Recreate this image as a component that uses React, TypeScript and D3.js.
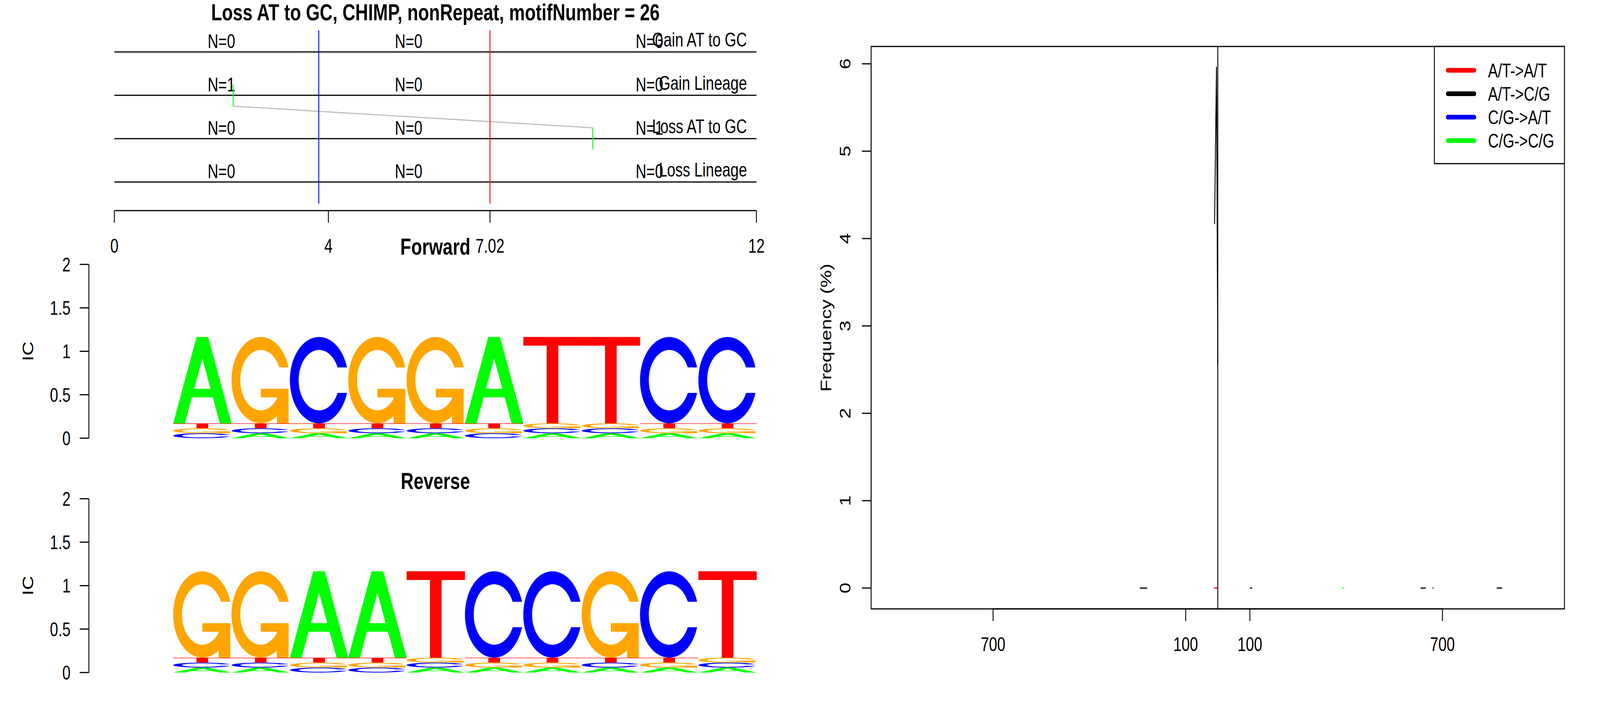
import React, { useEffect } from 'react';
import * as d3 from 'd3';

const W = 5400;
const H = 1800;
const FONT = '"Liberation Sans", Arial, Helvetica, sans-serif';
const LW = 3;

// top track: events along the motif
const trackNames = ['Gain AT to GC', 'Gain Lineage', 'Loss AT to GC', 'Loss Lineage'];
const trackLevels = [4, 3, 2, 1];
const countPositions = [2, 5.5, 10];
const trackCounts = [
  [0, 0, 0],
  [1, 0, 0],
  [0, 0, 1],
  [0, 0, 0],
];
const positionTicks = [0, 4, 7.02, 12];
const positionTickLabels = ['0', '4', '7.02', '12'];
const motifStart = 3.82;
const motifEnd = 7.02;
const eventPositions = [2.22, 8.94];
const eventLevels = [3, 2];

// logos
const forwardBases = ['A', 'G', 'C', 'G', 'G', 'A', 'T', 'T', 'C', 'C'];
const reverseBases = ['G', 'G', 'A', 'A', 'T', 'C', 'C', 'G', 'C', 'T'];
const forwardTopProb = [0.853, 0.853, 0.853, 0.853, 0.853, 0.853, 0.853, 0.853, 0.853, 0.853];
const reverseTopProb = [0.853, 0.853, 0.853, 0.853, 0.853, 0.853, 0.853, 0.853, 0.853, 0.853];
const icTicks = [0, 0.5, 1, 1.5, 2];

// right panel: frequency by distance
const distanceTicks = [-700, -100, 100, 700];
const freqTicks = [0, 1, 2, 3, 4, 5, 6];
const atToAtDist = [-10, 0];
const atToAtFreq = [0, 0];
const atToCgDist = [-242, -221, NaN, -10, -4, 0, NaN, 101, 106, NaN, 633, 647, NaN, 670, 671, NaN, 870, 885];
const atToCgFreq = [0, 0, NaN, 4.17, 5.96, 2.56, NaN, 0, 0, NaN, 0, 0, NaN, 0, 0, NaN, 0, 0];
const cgToAtDist: number[] = [];
const cgToAtFreq: number[] = [];
const cgToCgDist = [389, 391];
const cgToCgFreq = [0, 0];
const seriesNames = ['A/T->A/T', 'A/T->C/G', 'C/G->A/T', 'C/G->C/G'];
const seriesColors = ['#FF0000', '#000000', '#0000FF', '#00FF00'];
const seriesDist = [atToAtDist, atToCgDist, cgToAtDist, cgToCgDist];
const seriesFreq = [atToAtFreq, atToCgFreq, cgToAtFreq, cgToCgFreq];

type Pt = [number, number];

const BASES = ['A', 'C', 'G', 'T'];
const BASE_COLOR: Record<string, string> = { A: '#00FF00', C: '#0000FF', G: '#FFA500', T: '#FF0000' };

// letter outlines in a unit box (same construction as seqLogo)
const arcPts = (r: number, a0: number, a1: number, n = 100): Pt[] =>
  d3.range(n).map(i => {
    const a = a0 + ((a1 - a0) * i) / (n - 1);
    return [0.5 + r * Math.sin(a), 0.5 + r * Math.cos(a)] as Pt;
  });

const ringC = (): Pt[] => {
  const s = 0.3 + Math.PI / 2;
  const l1 = arcPts(0.5, s, Math.PI);
  const l2 = arcPts(0.5, Math.PI, 1.5 * Math.PI);
  const l = [...l1, ...l2];
  const outer: Pt[] = [...l, ...l.slice().reverse().map(([x, y]) => [x, 1 - y] as Pt)];
  const hMax = d3.max(l1, p => p[1])!;
  const i1 = arcPts(0.35, s, Math.PI).filter(p => p[1] <= hMax);
  i1[0] = [i1[0][0], hMax];
  const inn = [...i1, ...arcPts(0.35, Math.PI, 1.5 * Math.PI)];
  const inner: Pt[] = [...inn, ...inn.slice().reverse().map(([x, y]) => [x, 1 - y] as Pt)];
  return [...outer, ...inner.slice().reverse()];
};

const r1 = 0.5 + 0.5 * Math.sin(0.3 + Math.PI / 2);
const glyphs: Record<string, { pts: Pt[]; white?: boolean }[]> = {
  A: [
    { pts: [[0, 0], [0.4, 1], [0.6, 1], [1, 0], [0.8, 0], [0.68, 0.3], [0.32, 0.3], [0.2, 0]] },
    { pts: [[0.36, 0.4], [0.5, 0.75], [0.64, 0.4]], white: true },
  ],
  C: [{ pts: ringC() }],
  G: [
    { pts: ringC() },
    { pts: [[r1, 0.4], [0.5, 0.4], [0.5, 0.3], [r1 - 0.2, 0.3], [r1 - 0.2, 0], [r1, 0], [r1, 0.4]] },
  ],
  T: [{ pts: [[0, 1], [1, 1], [1, 0.9], [0.6, 0.9], [0.6, 0], [0.4, 0], [0.4, 0.9], [0, 0.9]] }],
};

const xTop = d3.scaleLinear().domain([0, 12]).range([386, 2553]);
const yTop = d3.scaleLinear().domain([1, 4]).range([466, 133]);
const xLogo = d3.scaleBand<number>().domain(d3.range(10)).range([584.5, 2554]).padding(0);

const xLim = [-1000, 1000];
const yLim = [0, 5.96];
const xR = d3
  .scaleLinear()
  .domain([xLim[0] - 0.04 * (xLim[1] - xLim[0]), xLim[1] + 0.04 * (xLim[1] - xLim[0])])
  .range([2940, 5280]);
const yR = d3
  .scaleLinear()
  .domain([yLim[0] - 0.04 * (yLim[1] - yLim[0]), yLim[1] + 0.04 * (yLim[1] - yLim[0])])
  .range([1559, 119]);

const txt = { fontFamily: FONT, fontSize: 50 } as const;

function Logo({ bases, topProb, title, dy }: { bases: string[]; topProb: number[]; title: string; dy: number }) {
  const y = d3.scaleLinear().domain([0, 2]).range([1122 + dy, 677 + dy]);
  const line = d3.line<Pt>();
  const letters: React.ReactNode[] = [];
  bases.forEach((b, j) => {
    const probs = BASES.map(k => (k === b ? topProb[j] : (1 - topProb[j]) / 3));
    const ic = 2 + d3.sum(probs, p => (p > 0 ? p * Math.log2(p) : 0));
    const hts = probs.map(p => p * ic);
    const order = d3.range(4).sort((a, c) => hts[a] - hts[c] || a - c);
    const x0 = xLogo(j)!;
    const w = xLogo.bandwidth();
    let base = 0;
    order.forEach(k => {
      const ht = hts[k];
      const letter = BASES[k];
      glyphs[letter].forEach((g, gi) => {
        const d = line(g.pts.map(([gx, gy]) => [x0 + w * gx, y(base + ht * gy)] as Pt)) + 'Z';
        letters.push(
          <path key={`${j}-${k}-${gi}`} d={d} fill={g.white ? '#FFFFFF' : BASE_COLOR[letter]} stroke="none" />
        );
      });
      base += ht;
    });
  });
  return (
    <g>
      <text x={(xTop(0) + xTop(12)) / 2} y={652 + dy} textAnchor="middle" fontFamily={FONT} fontSize={60} fontWeight="bold">
        {title}
      </text>
      {letters}
      <line x1={300} x2={300} y1={y(0)} y2={y(2)} stroke="#000" strokeWidth={LW} />
      {icTicks.map(t => (
        <g key={t}>
          <line x1={269} x2={300} y1={y(t)} y2={y(t)} stroke="#000" strokeWidth={LW} />
          <text x={238} y={y(t) + 18} textAnchor="end" {...txt}>
            {String(t)}
          </text>
        </g>
      ))}
      <text transform={`translate(112,${(y(0) + y(2)) / 2}) rotate(-90)`} textAnchor="middle" {...txt}>
        IC
      </text>
    </g>
  );
}

function Track() {
  const seg = d3.line<Pt>().x(d => xTop(d[0])).y(d => yTop(d[1]));
  return (
    <g>
      <text x={(xTop(0) + xTop(12)) / 2} y={52} textAnchor="middle" fontFamily={FONT} fontSize={60} fontWeight="bold">
        Loss AT to GC, CHIMP, nonRepeat, motifNumber = 26
      </text>
      {trackLevels.map((lv, i) => (
        <g key={lv}>
          <line x1={xTop(0)} x2={xTop(12)} y1={yTop(lv)} y2={yTop(lv)} stroke="#000" strokeWidth={LW} />
          {countPositions.map((cx, k) => (
            <text key={k} x={xTop(cx)} y={yTop(lv) - 10} textAnchor="middle" {...txt}>
              {`N=${trackCounts[i][k]}`}
            </text>
          ))}
          <text x={xTop(12) - 32} y={yTop(lv) - 14} textAnchor="end" {...txt}>
            {trackNames[i]}
          </text>
        </g>
      ))}
      <path d={seg([[eventPositions[0], eventLevels[0] - 0.25], [eventPositions[1], eventLevels[1] + 0.25]])!} stroke="#BEBEBE" strokeWidth={LW} fill="none" />
      {eventPositions.map((p, i) => (
        <path key={i} d={seg([[p, eventLevels[i] - 0.25], [p, eventLevels[i] + 0.25]])!} stroke="#00FF00" strokeWidth={LW} fill="none" />
      ))}
      <path d={seg([[motifStart, 0.5], [motifStart, 4.5]])!} stroke="#0000FF" strokeWidth={LW} />
      <path d={seg([[motifEnd, 0.5], [motifEnd, 4.5]])!} stroke="#FF0000" strokeWidth={LW} />
      <line x1={xTop(0)} x2={xTop(12)} y1={yTop(0.34)} y2={yTop(0.34)} stroke="#000" strokeWidth={LW} />
      {positionTicks.map((t, i) => (
        <g key={t}>
          <line x1={xTop(t)} x2={xTop(t)} y1={yTop(0.34)} y2={yTop(0.34) + 31} stroke="#000" strokeWidth={LW} />
          <text x={xTop(t)} y={647} textAnchor="middle" {...txt}>
            {positionTickLabels[i]}
          </text>
        </g>
      ))}
    </g>
  );
}

function Frequency() {
  const [x0, x1] = xR.range();
  const [b, t] = yR.range();
  const lines = seriesNames.map((name, s) => {
    const dist = seriesDist[s];
    const freq = seriesFreq[s];
    const d = d3
      .line<number>()
      .defined(i => !isNaN(freq[i]))
      .x(i => xR(dist[i]))
      .y(i => yR(freq[i]))(d3.range(dist.length));
    return d ? <path key={name} d={d} stroke={seriesColors[s]} strokeWidth={LW} fill="none" strokeLinecap="round" strokeLinejoin="round" /> : null;
  });
  const lx = 4841;
  const ly = 119;
  return (
    <g>
      {lines}
      <line x1={xR(0)} x2={xR(0)} y1={t} y2={b} stroke="#000" strokeWidth={LW} />
      <rect x={x0} y={t} width={x1 - x0} height={b - t} fill="none" stroke="#000" strokeWidth={LW} />
      <line x1={xR(distanceTicks[0])} x2={xR(distanceTicks[distanceTicks.length - 1])} y1={b} y2={b} stroke="#000" strokeWidth={LW} />
      {distanceTicks.map((d, i) => (
        <g key={i}>
          <line x1={xR(d)} x2={xR(d)} y1={b} y2={b + 31} stroke="#000" strokeWidth={LW} />
          <text x={xR(d)} y={1667} textAnchor="middle" {...txt}>
            {String(Math.abs(d))}
          </text>
        </g>
      ))}
      <line x1={x0} x2={x0} y1={yR(0)} y2={yR(6)} stroke="#000" strokeWidth={LW} />
      {freqTicks.map(f => (
        <g key={f}>
          <line x1={x0 - 31} x2={x0} y1={yR(f)} y2={yR(f)} stroke="#000" strokeWidth={LW} />
          <text transform={`translate(2870,${yR(f)}) rotate(-90)`} textAnchor="middle" {...txt}>
            {String(f)}
          </text>
        </g>
      ))}
      <text transform={`translate(2806,${(t + b) / 2}) rotate(-90)`} textAnchor="middle" {...txt}>
        Frequency (%)
      </text>
      <rect x={lx} y={ly} width={x1 - lx} height={300} fill="#FFFFFF" stroke="#000" strokeWidth={LW} />
      {seriesNames.map((name, s) => (
        <g key={name}>
          <line x1={4886} x2={4976} y1={180 + 60 * s} y2={180 + 60 * s} stroke={seriesColors[s]} strokeWidth={12} strokeLinecap="round" />
          <text x={5022} y={180 + 60 * s + 18} {...txt}>
            {name}
          </text>
        </g>
      ))}
    </g>
  );
}

export default function App() {
  useEffect(() => {
    document.body.style.margin = '0';
    document.body.style.overflow = 'hidden';
  }, []);
  return (
    <svg
      viewBox={`0 0 ${W} ${H}`}
      preserveAspectRatio="none"
      style={{ display: 'block', width: '100vw', height: '100vh', background: '#FFFFFF' }}
    >
      <rect width={W} height={H} fill="#FFFFFF" />
      <Track />
      <Logo bases={forwardBases} topProb={forwardTopProb} title="Forward" dy={0} />
      <Logo bases={reverseBases} topProb={reverseTopProb} title="Reverse" dy={600} />
      <Frequency />
    </svg>
  );
}
